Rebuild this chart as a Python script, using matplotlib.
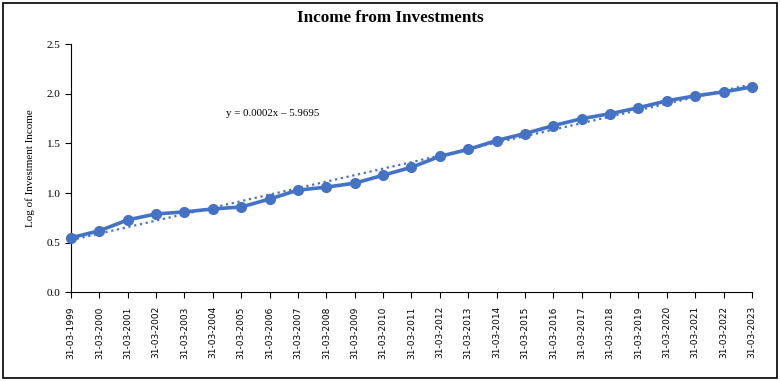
import matplotlib.pyplot as plt
import numpy as np
from matplotlib.patches import Rectangle

years = list(range(1999, 2024))
labels = ["31-03-%d" % y for y in years]
log_income = [0.55, 0.62, 0.73, 0.79, 0.81, 0.84, 0.86, 0.94, 1.03, 1.06,
              1.10, 1.18, 1.26, 1.37, 1.44, 1.53, 1.60, 1.68, 1.75, 1.80,
              1.86, 1.93, 1.98, 2.02, 2.07]
equation = "y = 0.0002x \u2013 5.9695"

blue = "#4472C4"
serif = ["Liberation Serif", "DejaVu Serif"]

fig = plt.figure(figsize=(7.8, 3.81), dpi=100)
ax = fig.add_axes([0.091, 0.2328, 0.873, 0.651])

x = np.arange(len(years))
# linear trendline
coef = np.polyfit(x, log_income, 1)
ax.plot(x, np.polyval(coef, x), ':', color=blue, linewidth=1.6, zorder=3)
ax.plot(x, log_income, '-o', color=blue, linewidth=2.6, markersize=7,
        clip_on=False, zorder=4)

ax.set_xlim(0, len(years) - 1)
ax.set_ylim(0, 2.5)
ax.set_yticks(np.arange(0, 2.51, 0.5))
ax.set_yticklabels(["%.1f" % v for v in np.arange(0, 2.51, 0.5)],
                   family=serif, fontsize=8)
ax.set_xticks(x)
ax.set_xticklabels(labels, rotation=90, family="DejaVu Sans", fontsize=6.5)
ax.tick_params(axis='both', length=4, width=0.8, color='black')
ax.tick_params(axis='x', pad=6)
for s in ['top', 'right']:
    ax.spines[s].set_visible(False)
for s in ['left', 'bottom']:
    ax.spines[s].set_linewidth(0.8)

ax.set_ylabel("Log of Investment Income", family=serif, fontsize=8)
ax.yaxis.set_label_coords(-0.053, 0.5)
fig.text(0.5, 0.953, "Income from Investments", ha='center', va='center',
         family=serif, fontsize=12.3, fontweight='bold')
fig.text(226 / 780, 1 - 113 / 381, equation, ha='left', va='center',
         family=serif, fontsize=7.8)

fig.add_artist(Rectangle((0.004, 0.008), 0.992, 0.984, transform=fig.transFigure,
                         fill=False, edgecolor='black', linewidth=1.2))

fig.savefig("out.png", dpi=100)
